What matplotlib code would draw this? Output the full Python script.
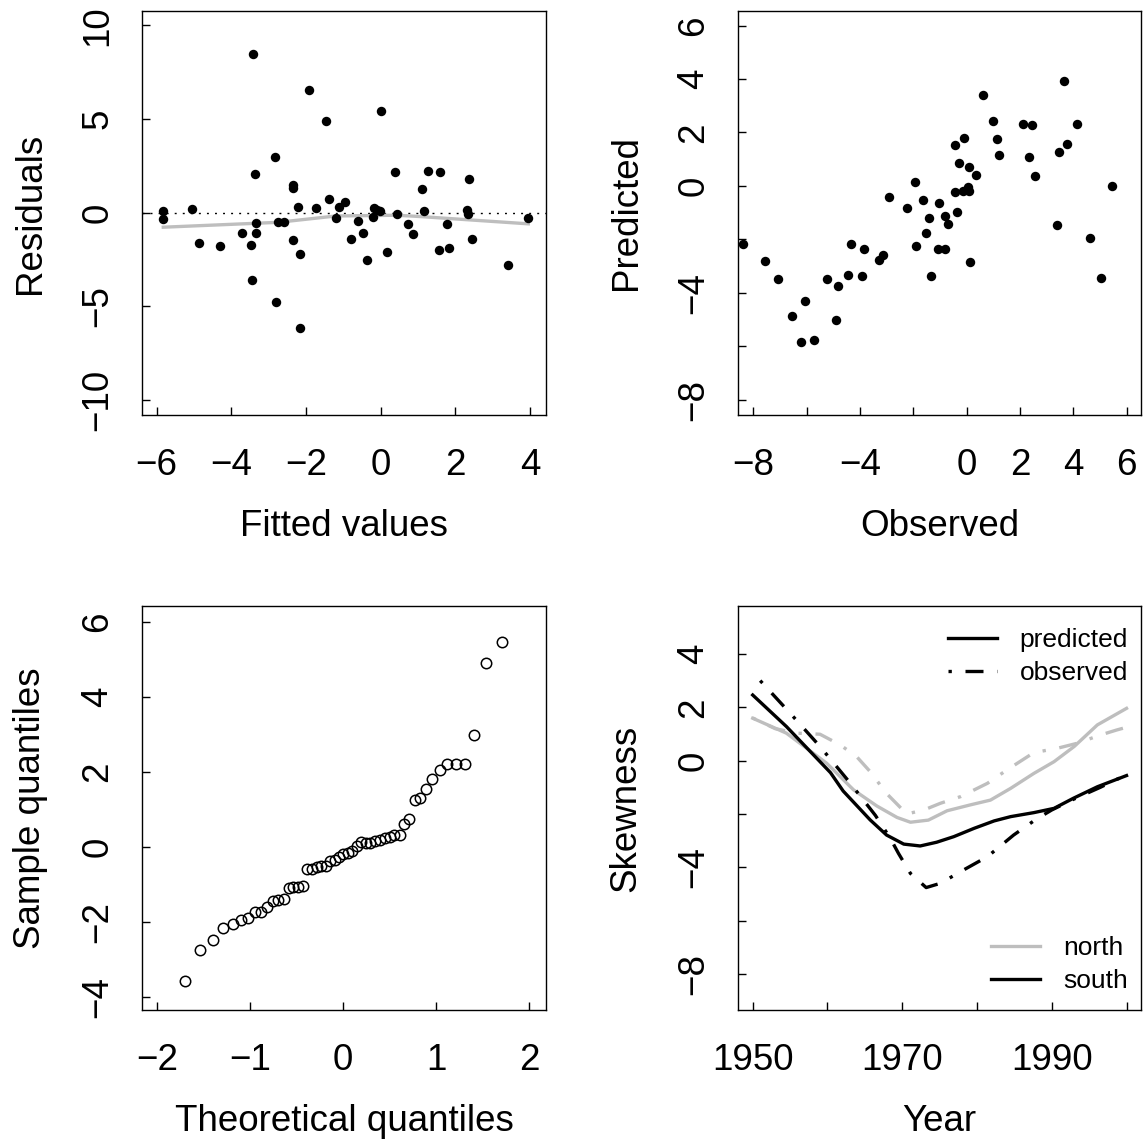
import matplotlib
matplotlib.use("Agg")
import matplotlib.pyplot as plt
from matplotlib.lines import Line2D

plt.rcParams['font.family'] = ['Liberation Sans', 'DejaVu Sans']
FS = 26.5
LEG_FS = 19
GRAY = '#BEBEBE'

# panel 1: residuals vs fitted
fitted = [-5.82, -5.82, -5.05, -4.875, -4.29, -3.71, -3.46, -3.45, -3.43, -3.375,
          -3.34, -3.34, -2.84, -2.79, -2.75, -2.59, -2.36, -2.34, -2.34, -2.21,
          -2.16, -2.16, -1.93, -1.73, -1.46, -1.39, -1.20, -1.11, -0.95, -0.80,
          -0.61, -0.48, -0.375, -0.21, -0.18, -0.11, -0.02, 0.02, 0.16, 0.39,
          0.43, 0.73, 0.875, 1.11, 1.16, 1.27, 1.55, 1.59, 1.77, 1.82,
          2.32, 2.34, 2.36, 2.45, 3.41, 3.95]
residuals = [0.09, -0.34, 0.18, -1.64, -1.78, -1.09, -1.74, -3.59, 8.47, 2.06,
             -0.57, -1.10, 2.97, -4.77, -0.52, -0.52, -1.46, 1.48, 1.30, 0.28,
             -6.17, -2.21, 6.53, 0.23, 4.88, 0.73, -0.27, 0.28, 0.55, -1.41,
             -0.43, -1.09, -2.53, -0.21, 0.27, 0.14, 0.09, 5.43, -2.10, 2.17,
             -0.07, -0.60, -1.14, 1.26, 0.09, 2.21, -1.99, 2.17, -0.60, -1.89,
             0.16, -0.07, 1.78, -1.41, -2.79, -0.28]
smooth_x = [-5.82, -2.75, -1.2, 0.43, 1.05, 3.95]
smooth_y = [-0.78, -0.52, -0.18, -0.14, -0.21, -0.60]

# panel 2: predicted vs observed
observed = [-8.375, -7.575, -7.09, -6.55, -6.2, -6.075, -5.71, -5.25, -4.9, -4.84,
            -4.44, -4.35, -3.94, -3.85, -3.3, -3.125, -2.925, -2.25, -1.95, -1.91,
            -1.625, -1.525, -1.425, -1.325, -1.075, -1.025, -0.81, -0.8, -0.7, -0.45,
            -0.44, -0.375, -0.29, -0.15, -0.11, 0.06, 0.09, 0.1, 0.11, 0.35,
            0.61, 0.975, 1.125, 1.225, 2.125, 2.325, 2.45, 2.55, 3.4, 3.46,
            3.64, 3.75, 4.125, 4.625, 5.06, 5.45]
predicted = [-2.17, -2.80, -3.47, -4.86, -5.83, -4.30, -5.79, -3.47, -5.04, -3.74,
             -3.33, -2.17, -3.36, -2.37, -2.76, -2.58, -0.41, -0.82, 0.15, -2.24,
             -0.52, -1.76, -1.20, -3.36, -2.35, -0.64, -1.12, -2.35, -1.42, 1.53,
             -0.24, -0.97, 0.86, -0.19, 1.79, -0.04, -0.20, 0.71, -2.84, 0.41,
             3.40, 2.43, 1.76, 1.16, 2.32, 1.08, 2.28, 0.37, -1.46, 1.27,
             3.92, 1.57, 2.32, -1.94, -3.44, 0.0]

# panel 3: normal Q-Q
theo_q = [-1.70, -1.54, -1.40, -1.29, -1.19, -1.10, -1.025, -0.95, -0.886, -0.82,
          -0.76, -0.70, -0.64, -0.586, -0.536, -0.486, -0.43, -0.386, -0.336, -0.286,
          -0.24, -0.19, -0.14, -0.093, -0.046, 0.0, 0.05, 0.096, 0.146, 0.196,
          0.246, 0.29, 0.34, 0.39, 0.446, 0.5, 0.55, 0.61, 0.65, 0.71,
          0.77, 0.83, 0.89, 0.96, 1.04, 1.12, 1.21, 1.31, 1.41, 1.54, 1.71]
sample_q = [-3.57, -2.76, -2.48, -2.17, -2.05, -1.96, -1.90, -1.73, -1.73, -1.61,
            -1.44, -1.41, -1.40, -1.09, -1.07, -1.06, -1.04, -0.59, -0.58, -0.55,
            -0.52, -0.50, -0.37, -0.34, -0.27, -0.19, -0.16, -0.10, 0.03, 0.12,
            0.10, 0.10, 0.15, 0.17, 0.24, 0.27, 0.31, 0.32, 0.60, 0.73,
            1.24, 1.31, 1.53, 1.82, 2.06, 2.20, 2.21, 2.22, 2.99, 4.89, 5.45]

# panel 4: skewness by year
south_pred_yr = [1950, 1954.5, 1960.4, 1962.1, 1965.7, 1967.9, 1970.2, 1972.4, 1974.6,
                 1976.9, 1979.6, 1982.3, 1984.5, 1987.6, 1990.3, 1992.9, 1996.1, 2000]
south_pred = [2.46, 1.28, -0.45, -1.14, -2.22, -2.79, -3.13, -3.2, -3.06,
              -2.85, -2.54, -2.26, -2.1, -1.95, -1.79, -1.41, -0.98, -0.56]
south_obs_yr = [1951, 1955, 1959, 1962.8, 1966.4, 1968.4, 1969.5, 1971.1, 1973.2, 1975.1,
                1978.2, 1981.4, 1984.9, 1987.9, 1990, 1992.9, 1996.5, 1998.7, 2000]
south_obs = [3.0, 1.78, 0.53, -0.76, -2.05, -2.91, -3.48, -4.23, -4.76, -4.6,
             -4.1, -3.6, -2.79, -2.2, -1.85, -1.45, -1.0, -0.7, -0.56]
north_pred_yr = [1950, 1954.5, 1959.9, 1963.5, 1966.6, 1969.3, 1971.1, 1973.5, 1976,
                 1979.1, 1981.8, 1984.5, 1987.6, 1990.3, 1993, 1996.1, 2000]
north_pred = [1.59, 1.03, -0.1, -1.1, -1.7, -2.13, -2.31, -2.23, -1.88,
              -1.66, -1.48, -1.04, -0.48, -0.04, 0.53, 1.34, 1.96]
north_obs_yr = [1950, 1953, 1955.9, 1959, 1961.7, 1963.9, 1965.7, 1967.9, 1970.6, 1972.9,
                1975.1, 1977.8, 1981.4, 1984, 1987.6, 1990.7, 1993.4, 1996.5, 1998.7, 2000]
north_obs = [1.6, 1.2, 1.03, 0.99, 0.59, 0.15, -0.41, -1.23, -2.0, -1.85,
             -1.6, -1.35, -0.85, -0.35, 0.3, 0.46, 0.65, 0.96, 1.15, 1.25]

DOTDASH = (0, (1.0, 4.1, 5.4, 4.1))


def style(ax, xticks, xlabels, yticks, ylabels, xlabel, ylabel):
    ax.set_xticks(xticks)
    ax.set_xticklabels(xlabels)
    ax.set_yticks(yticks)
    ax.set_yticklabels(ylabels, rotation=90, va='center')
    ax.tick_params(direction='in', length=5.8, width=1.0, labelsize=FS)
    ax.tick_params(axis='x', pad=23.5)
    ax.tick_params(axis='y', pad=19)
    for s in ax.spines.values():
        s.set_linewidth(1.0)
    ax.set_xlabel(xlabel, fontsize=FS, labelpad=19)
    ax.set_ylabel(ylabel, fontsize=FS, labelpad=23.5)


def lab(vals, show):
    return [('\u2212%g' % -v if v < 0 else '%g' % v) if v in show else '' for v in vals]


fig = plt.figure(figsize=(11.44, 11.42), dpi=100)
W, H = 0.3531, 0.3538
ax1 = fig.add_axes([0.1241, 0.6366, W, H])
ax2 = fig.add_axes([0.6447, 0.6366, W, H])
ax3 = fig.add_axes([0.1241, 0.1156, W, H])
ax4 = fig.add_axes([0.6447, 0.1156, W, H])

# residuals
ax1.axhline(0, color='black', lw=1.0, linestyle=(0, (1.4, 4.4)))
ax1.plot(smooth_x, smooth_y, color=GRAY, lw=2.4)
ax1.plot(fitted, residuals, 'o', color='black', ms=6.8, mew=0)
ax1.set_xlim(-6.39, 4.42)
ax1.set_ylim(-10.81, 10.77)
t = [-6, -4, -2, 0, 2, 4]
ty = [-10, -5, 0, 5, 10]
style(ax1, t, lab(t, t), ty, lab(ty, ty), 'Fitted values', 'Residuals')

# predicted vs observed
ax2.plot(observed, predicted, 'o', color='black', ms=6.8, mew=0)
ax2.set_xlim(-8.59, 6.56)
ax2.set_ylim(-8.58, 6.55)
t = [-8, -6, -4, -2, 0, 2, 4, 6]
style(ax2, t, lab(t, [-8, -4, 0, 2, 4, 6]), t, lab(t, [-8, -4, 0, 2, 4, 6]),
      'Observed', 'Predicted')

# qq
ax3.plot(theo_q, sample_q, 'o', mfc='none', mec='black', ms=7.5, mew=1.1)
ax3.set_xlim(-2.165, 2.18)
ax3.set_ylim(-4.35, 6.42)
t = [-2, -1, 0, 1, 2]
ty = [-4, -2, 0, 2, 4, 6]
style(ax3, t, lab(t, t), ty, lab(ty, ty), 'Theoretical quantiles', 'Sample quantiles')

# skewness
ax4.plot(north_obs_yr, north_obs, color=GRAY, lw=2.4, linestyle=DOTDASH)
ax4.plot(north_pred_yr, north_pred, color=GRAY, lw=2.4)
ax4.plot(south_obs_yr, south_obs, color='black', lw=2.4, linestyle=DOTDASH)
ax4.plot(south_pred_yr, south_pred, color='black', lw=2.4)
ax4.set_xlim(1947.97, 2002.0)
ax4.set_ylim(-9.35, 5.8)
t = [1950, 1960, 1970, 1980, 1990, 2000]
ty = [-8, -6, -4, -2, 0, 2, 4]
style(ax4, t, lab(t, [1950, 1970, 1990]), ty, lab(ty, [-8, -4, 0, 2, 4]),
      'Year', 'Skewness')

kw = dict(frameon=False, fontsize=LEG_FS, handlelength=1.86, handletextpad=0.87,
          labelspacing=0.34, borderaxespad=0)
leg1 = ax4.legend([Line2D([], [], color='black', lw=2.4),
                   Line2D([], [], color='black', lw=2.4, linestyle=DOTDASH)],
                  ['predicted', 'observed'], loc='upper right',
                  bbox_to_anchor=(0.9926, 0.9715), **kw)
ax4.add_artist(leg1)
ax4.legend([Line2D([], [], color=GRAY, lw=2.4),
            Line2D([], [], color='black', lw=2.4)],
           ['north', 'south'], loc='lower right',
           bbox_to_anchor=(0.9926, 0.0163), **kw)

fig.savefig('out.png', dpi=100)
